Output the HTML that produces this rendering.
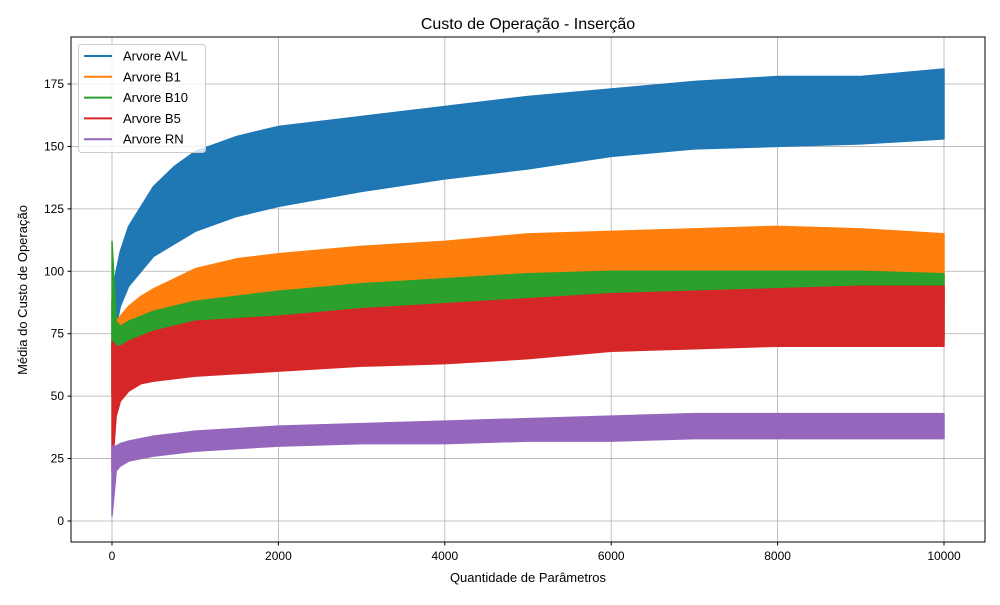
<!DOCTYPE html>
<html><head><meta charset="utf-8">
<style>
body{margin:0;background:#fff;font-family:"Liberation Sans","DejaVu Sans",sans-serif;}
svg text{font-family:"Liberation Sans","DejaVu Sans",sans-serif;}
</style></head>
<body>
<svg id="chart" width="1000" height="600" viewBox="0 0 1000 600">
<rect width="1000" height="600" fill="#fff"/>
<text x="528" y="29" font-size="16" text-anchor="middle">Custo de Operação - Inserção</text>
<g id="grid"></g>
<g id="series"></g>
<rect x="71" y="37" width="914" height="505" fill="none" stroke="#000" stroke-width="1"/>
<g id="ticks"></g>
<text x="528" y="582" font-size="13" text-anchor="middle">Quantidade de Parâmetros</text>
<text transform="translate(27,290) rotate(-90)" font-size="13" text-anchor="middle">Média do Custo de Operação</text>
<g id="legend"></g>
</svg>
<script>
const xs=[0,50,100,200,350,500,750,1000,1500,2000,3000,4000,5000,6000,7000,8000,9000,10000];
const avlLo=[66,78,86,94,100,106,111,116,122,126,132,137,141,146,149,150,151,153];
const avlHi=[88,100,108,118,126,134,142,148,154,158,162,166,170,173,176,178,178,181];
const b1Lo=[50,58,62,66,68,70,73,75,77,78,80,82,84,85,85,86,86,86];
const b1Hi=[70,80,82,86,90,93,97,101,105,107,110,112,115,116,117,118,117,115];
const b10Lo=[50,56,60,62,64,65,66,67,68,68,70,71,72,73,73,73,73,73];
const b10Hi=[112,80,78,80,82,84,86,88,90,92,95,97,99,100,100,100,100,99];
const b5Lo=[20,42,48,52,55,56,57,58,59,60,62,63,65,68,69,70,70,70];
const b5Hi=[72,70,70,72,74,76,78,80,81,82,85,87,89,91,92,93,94,94];
const rnLo=[2,20,22,24,25,26,27,28,29,30,31,31,32,32,33,33,33,33];
const rnHi=[30,30,31,32,33,34,35,36,37,38,39,40,41,42,43,43,43,43];
const names=["Arvore AVL","Arvore B1","Arvore B10","Arvore B5","Arvore RN"];
const colors=["#1f77b4","#ff7f0e","#2ca02c","#d62728","#9467bd"];
const yTicks=[0,25,50,75,100,125,150,175];
const xTicks=[0,2000,4000,6000,8000,10000];
const X=v=>112+v*(944-112)/10000;
const Y=v=>521-v*(521-84)/175;
const NS="http://www.w3.org/2000/svg";
function mk(t,a,p){const e=document.createElementNS(NS,t);for(const k in a)e.setAttribute(k,a[k]);p.appendChild(e);return e;}
const grid=document.getElementById('grid'),ticks=document.getElementById('ticks');
yTicks.forEach(v=>{
 const g=mk('line',{x1:71,x2:985,y1:Y(v),y2:Y(v),stroke:'#b0b0b0','stroke-width':0.8},grid);
 
 
 mk('line',{x1:67.5,x2:71,y1:Y(v),y2:Y(v),stroke:'#000'},ticks);
 const t=mk('text',{x:64,y:Y(v)+4,'font-size':12,'text-anchor':'end'},ticks);t.textContent=v;
 
 
});
xTicks.forEach(v=>{
 const g=mk('line',{x1:X(v),x2:X(v),y1:37,y2:542,stroke:'#b0b0b0','stroke-width':0.8},grid);
 
 
 mk('line',{x1:X(v),x2:X(v),y1:542,y2:545.5,stroke:'#000'},ticks);
 const t=mk('text',{x:X(v),y:560,'font-size':12,'text-anchor':'middle'},ticks);t.textContent=v;
 
 
});
const los=[avlLo,b1Lo,b10Lo,b5Lo,rnLo],his=[avlHi,b1Hi,b10Hi,b5Hi,rnHi];
const sg=document.getElementById('series');
for(let s=0;s<5;s++){
 let pts=xs.map((x,i)=>X(x)+','+Y(his[s][i]));
 pts=pts.concat(xs.map((x,i)=>X(x)+','+Y(los[s][i])).reverse());
 const p=mk('polygon',{points:pts.join(' '),fill:colors[s],stroke:colors[s],'stroke-width':1.5,'stroke-linejoin':'round'},sg);
 
 
}
const lg=document.getElementById('legend');
mk('rect',{x:78.5,y:44.5,width:127,height:108,rx:3,fill:'#fff','fill-opacity':0.8,stroke:'#ccc'},lg);
names.forEach((n,i)=>{
 const y=56+i*20.8;
 mk('line',{x1:84,x2:112,y1:y,y2:y,stroke:colors[i],'stroke-width':2},lg);
 const t=mk('text',{x:123,y:y+4.5,'font-size':13},lg);t.textContent=n;
 
 
});
</script>
</body></html>
